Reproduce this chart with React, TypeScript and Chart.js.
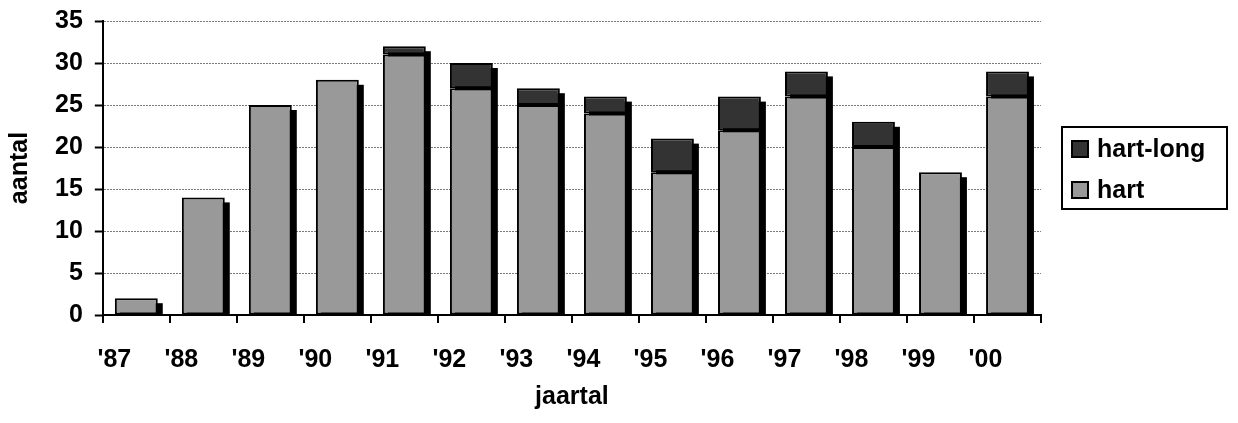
import { useEffect, useRef } from "react";
import { Chart, registerables } from "chart.js";
import type { Plugin } from "chart.js";

Chart.register(...registerables);

const years = ["'87", "'88", "'89", "'90", "'91", "'92", "'93", "'94", "'95", "'96", "'97", "'98", "'99", "'00"];
const hart = [2, 14, 25, 28, 31, 27, 25, 24, 17, 22, 26, 20, 17, 26];
const hartLong = [0, 0, 0, 0, 1, 3, 2, 2, 4, 4, 3, 3, 0, 3];
const yTicks = [0, 5, 10, 15, 20, 25, 30, 35];

const FONT = "'Liberation Sans', Arial, sans-serif";
const FS = 25;

// black drop shadow behind every stacked column
const shadowPlugin: Plugin<"bar"> = {
  id: "barShadow",
  beforeDatasetsDraw(chart) {
    const ctx = chart.ctx;
    const base = chart.scales.y.getPixelForValue(0);
    const metas = chart.data.datasets.map((_, i) => chart.getDatasetMeta(i));
    ctx.save();
    ctx.fillStyle = "#000";
    years.forEach((_, idx) => {
      let top = base;
      let el: any = null;
      metas.forEach((m, di) => {
        const v = chart.data.datasets[di].data[idx] as number;
        if (v > 0) {
          const e: any = m.data[idx];
          if (e.y < top) { top = e.y; el = e; }
        }
      });
      if (!el) return;
      ctx.fillRect(el.x - el.width / 2 + 5, top + 5, el.width, base - top - 5);
    });
    ctx.restore();
  },
};

// boxed legend to the right of the plot, top series first
const legendPlugin: Plugin<"bar"> = {
  id: "boxedLegend",
  afterDraw(chart) {
    const ctx = chart.ctx;
    const area = chart.chartArea;
    const left = area.right + 21;
    const w = 165;
    const h = 82;
    const top = (area.top + area.bottom) / 2 - h / 2;
    ctx.save();
    ctx.strokeStyle = "#000";
    ctx.lineWidth = 2;
    ctx.strokeRect(left, top, w, h);
    ctx.font = `bold ${FS}px ${FONT}`;
    ctx.textBaseline = "middle";
    const items = chart.data.datasets.slice().reverse();
    items.forEach((ds, i) => {
      const cy = top + 22 + i * 41;
      ctx.fillStyle = ds.backgroundColor as string;
      ctx.fillRect(left + 10, cy - 8, 16, 16);
      ctx.lineWidth = 2;
      ctx.strokeRect(left + 10, cy - 8, 16, 16);
      ctx.fillStyle = "#000";
      ctx.fillText(ds.label as string, left + 35, cy + 1);
    });
    ctx.restore();
  },
};

function HartChart() {
  const canvasRef = useRef<HTMLCanvasElement>(null);
  const chartRef = useRef<Chart<"bar"> | null>(null);

  useEffect(() => {
    if (!canvasRef.current) return;
    chartRef.current?.destroy();

    const font = { family: FONT, size: FS, weight: "bold" as const };

    chartRef.current = new Chart(canvasRef.current, {
      type: "bar",
      data: {
        labels: years,
        datasets: [
          {
            label: "hart",
            data: hart,
            backgroundColor: "#999999",
            borderColor: "#000",
            borderWidth: 2,
            borderSkipped: false,
            categoryPercentage: 1,
            barPercentage: 0.64,
          },
          {
            label: "hart-long",
            data: hartLong,
            backgroundColor: "#333333",
            borderColor: "#000",
            borderWidth: 2,
            borderSkipped: false,
            categoryPercentage: 1,
            barPercentage: 0.64,
          },
        ],
      },
      options: {
        responsive: true,
        maintainAspectRatio: false,
        animation: false,
        layout: { padding: { left: -3, right: 189, top: 0, bottom: 0 } },
        scales: {
          x: {
            stacked: true,
            border: { color: "#000", width: 2 },
            grid: { drawOnChartArea: false, offset: true, tickLength: 8, color: "#000", lineWidth: 2 },
            ticks: { color: "#000", font, padding: 22, labelOffset: -22, maxRotation: 0, autoSkip: false },
            title: { display: true, text: "jaartal", color: "#000", font, padding: { top: -15, bottom: 0 } },
          },
          y: {
            stacked: true,
            min: 0,
            max: 35,
            afterBuildTicks: (axis) => { axis.ticks = yTicks.map((v) => ({ value: v })); },
            border: { color: "#000", width: 2, dash: [2, 1] },
            grid: { color: "#7a7a7a", lineWidth: 1, tickColor: "#000", tickWidth: 2, tickLength: 8, tickBorderDash: [] } as any,
            ticks: { color: "#000", font, padding: 12 },
            title: { display: true, text: "aantal", color: "#000", font, padding: { top: 0, bottom: 8 } },
          },
        },
        plugins: {
          legend: { display: false },
          tooltip: { enabled: false },
        },
      },
      plugins: [shadowPlugin, legendPlugin],
    });

    return () => { chartRef.current?.destroy(); };
  }, []);

  // shifted up so the plot top sits where the reference has it
  return <div style={{ position: "relative", top: "-14px", width: "1222px", height: "418px" }}><canvas ref={canvasRef} /></div>;
}

export default function App() {
  return <HartChart />;
}
